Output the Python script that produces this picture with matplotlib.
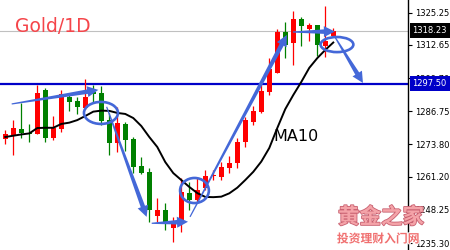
import numpy as np
import matplotlib
matplotlib.use("Agg")
import matplotlib.pyplot as plt
import matplotlib.patheffects as pe
from matplotlib.patches import Ellipse, Polygon
from matplotlib.transforms import IdentityTransform

# daily candles (oldest first)
opens = [1275.9, 1277.5, 1279.7, 1278.3, 1277.9, 1295.1, 1276.3, 1279.8, 1292.3, 1290.9,
         1287.9, 1294.3, 1293.8, 1283.3, 1274.5, 1281.8, 1275.8, 1265.4, 1263.0, 1245.8,
         1248.2, 1241.0, 1243.6, 1254.7, 1252.1, 1256.8, 1261.3, 1261.2, 1264.7, 1266.4,
         1274.6, 1282.7, 1286.6, 1294.4, 1301.8, 1317.6, 1313.3, 1322.8, 1318.9, 1320.5,
         1312.4, 1316.3]
highs = [1279.4, 1283.3, 1290.0, 1281.8, 1297.0, 1295.8, 1284.9, 1295.1, 1293.9, 1292.4,
         1299.4, 1297.0, 1296.6, 1286.1, 1288.5, 1282.6, 1276.8, 1268.9, 1264.6, 1252.9,
         1250.9, 1245.6, 1260.7, 1259.1, 1260.7, 1263.8, 1263.8, 1267.1, 1269.3, 1276.2,
         1284.6, 1288.8, 1298.2, 1307.4, 1318.8, 1321.7, 1325.9, 1323.5, 1321.4, 1320.5,
         1327.9, 1319.3]
lows = [1274.0, 1269.7, 1276.4, 1274.9, 1277.7, 1274.6, 1275.5, 1278.8, 1286.9, 1285.7,
        1287.6, 1289.9, 1281.4, 1269.7, 1271.0, 1271.2, 1262.5, 1262.3, 1243.6, 1243.6,
        1240.4, 1235.8, 1239.6, 1248.2, 1250.9, 1256.0, 1259.9, 1259.9, 1262.6, 1264.5,
        1272.9, 1281.4, 1286.1, 1293.1, 1301.7, 1307.4, 1304.8, 1312.4, 1314.3, 1308.5,
        1308.1, 1316.2]
closes = [1277.9, 1280.2, 1278.4, 1278.0, 1294.0, 1276.4, 1280.2, 1293.5, 1290.4, 1288.3,
          1292.4, 1293.5, 1282.9, 1274.5, 1282.2, 1275.5, 1265.1, 1262.8, 1248.2, 1248.2,
          1243.5, 1242.7, 1255.3, 1252.1, 1256.0, 1261.5, 1261.7, 1265.1, 1266.7, 1274.9,
          1283.3, 1286.9, 1294.8, 1303.2, 1317.8, 1312.6, 1322.8, 1320.2, 1320.5, 1312.5,
          1314.2, 1318.23]
ma10 = [1276.7, 1277.2, 1277.7, 1278.1, 1280.2, 1280.3, 1280.3, 1281.8, 1282.3, 1283.3,
        1284.9, 1286.6, 1287.0, 1286.9, 1286.1, 1285.7, 1284.1, 1281.0, 1276.7, 1272.8,
        1266.9, 1262.6, 1259.9, 1257.2, 1254.8, 1253.3, 1253.2, 1253.4, 1254.7, 1256.9,
        1259.9, 1263.1, 1267.1, 1272.4, 1280.2, 1287.6, 1293.1, 1298.2, 1303.7, 1307.5,
        1310.7, 1313.6]

support = 1297.50
tick_vals = [1235.30, 1248.25, 1261.20, 1273.80, 1286.75, 1299.70, 1312.65, 1325.25]

# hand drawn marks: (candle index, price)
arrows = [((0.8, 1289.6), (11.63, 1295.1)),
          ((12.67, 1288.5), (17.67, 1245.5)),
          ((18.3, 1243.0), (22.84, 1243.6)),
          ((23.09, 1245.5), (35.2, 1316.55)),
          ((35.96, 1317.7), (41.2, 1317.9)),
          ((41.2, 1315.8), (44.71, 1297.8))]
circles = [((11.96, 1286.1), 4.25, 8.6),
           ((23.65, 1255.8), 3.6, 9.8),
           ((41.46, 1312.8), 4.1, 5.9)]

UP = "#FF0000"
DOWN = "#008000"
ANNOT = "#4468D8"

fig = plt.figure(figsize=(4.5, 2.5), dpi=100)
ax = fig.add_axes([0, 0, 408 / 450, 1])
ax.set_xlim(-0.66, 50.34)
ax.set_ylim(1232.57, 1330.2)

for s in ["top", "left", "bottom"]:
    ax.spines[s].set_visible(False)
ax.spines["right"].set_linewidth(1)
ax.set_xticks([])
ax.yaxis.tick_right()
ax.set_yticks(tick_vals, labels=["%.2f" % v for v in tick_vals])
ax.tick_params(axis="y", length=3, width=0.8, pad=2, labelsize=6)

idx = np.arange(len(closes))
o = np.array(opens)
c = np.array(closes)
cols = [UP if cc >= oo else DOWN for oo, cc in zip(o, c)]

ax.axhline(closes[-1], color="#C0C0C0", lw=0.8, zorder=1)
ax.axhline(support, color="#0000C8", lw=1.6, zorder=2)

ax.vlines(idx, lows, highs, colors=cols, lw=0.9, zorder=3)
bottoms = np.minimum(o, c)
heights = np.maximum(np.abs(c - o), 0.45)
ax.bar(idx, heights, bottom=bottoms, width=0.62, color=cols, linewidth=0, zorder=4)

ax.plot(idx, ma10, color="black", lw=1.4, zorder=5)


def draw_arrow(p0, p1, w0=1.2, w1=4.5, hw=11, hl=11):
    s, e = ax.transData.transform([p0, p1])
    u = (e - s) / np.hypot(*(e - s))
    n = np.array([-u[1], u[0]])
    b = e - u * hl
    pts = [s + n * w0 / 2, b + n * w1 / 2, b + n * hw / 2, e,
           b - n * hw / 2, b - n * w1 / 2, s - n * w0 / 2]
    ax.add_patch(Polygon(pts, closed=True, transform=IdentityTransform(),
                         fc=ANNOT, ec="none", zorder=7))


for p0, p1 in arrows:
    draw_arrow(p0, p1)

for (cx, cy), w, h in circles:
    ax.add_patch(Ellipse((cx, cy), w, h, fill=False, ec=ANNOT, lw=1.9, zorder=7))

# price boxes on the axis
ax.text(1.011, closes[-1], "%.2f" % closes[-1], transform=ax.get_yaxis_transform(),
        ha="left", va="center", fontsize=6, color="white", clip_on=False, zorder=9,
        bbox=dict(boxstyle="square,pad=0.35", fc="black", ec="none"))
ax.text(1.011, support, "%.2f" % support, transform=ax.get_yaxis_transform(),
        ha="left", va="center", fontsize=6, color="white", clip_on=False, zorder=9,
        bbox=dict(boxstyle="square,pad=0.35", fc="#0000C8", ec="none"))

fig.text(15 / 450, 1 - 26 / 250, "Gold/1D", color="#F5454A", fontsize=13.5, va="center")
ax.text(33.46, 1276.7, "MA10", fontsize=11.5, va="center", color="black", zorder=8)

# watermark
fig.text(381 / 450, 1 - 217 / 250, "黄金之家", family=["Noto Sans CJK SC", "DejaVu Sans"],
         fontsize=15.5, fontweight="bold", color="#F4A3A8", ha="center", va="center",
         path_effects=[pe.withStroke(linewidth=1.2, foreground="#C86070")])
fig.text(378 / 450, 1 - 239 / 250, "投资理财入门网", family=["Noto Sans CJK SC", "DejaVu Sans"],
         fontsize=8.5, fontweight="bold", color="#F07070", ha="center", va="center",
         path_effects=[pe.withStroke(linewidth=1.2, foreground="white")])

fig.savefig("out.png", dpi=100)
